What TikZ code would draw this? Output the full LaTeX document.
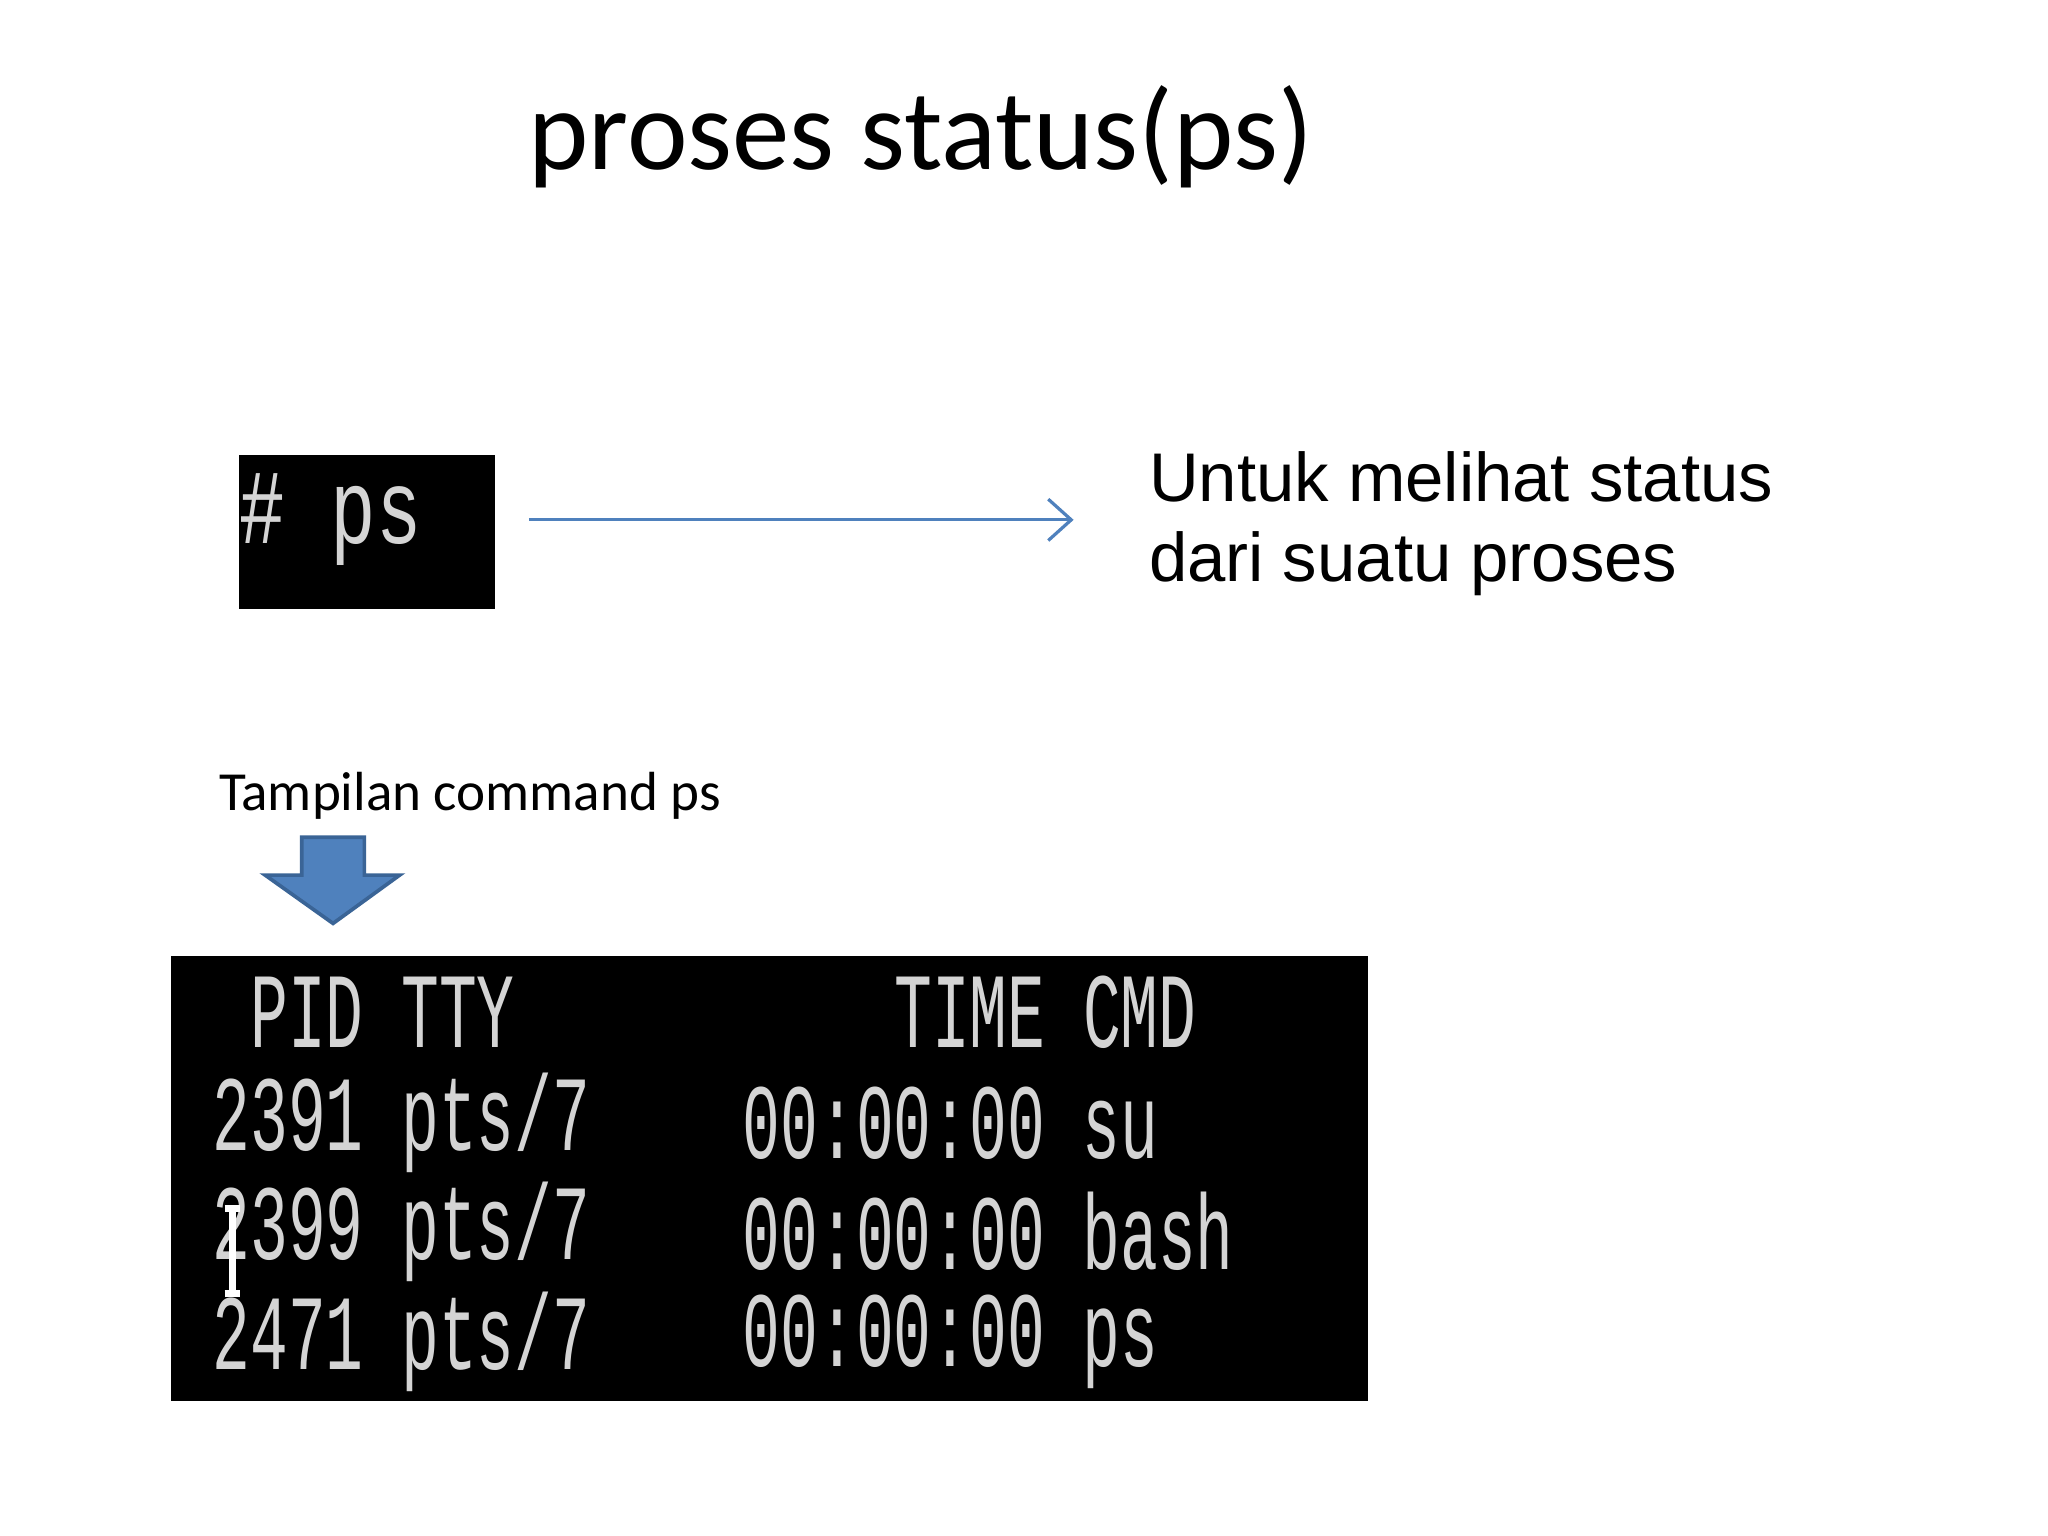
\documentclass[tikz,border=0pt]{standalone}
\usepackage{fontspec}
\usepackage{graphicx}
\setmainfont{Carlito}
\newfontfamily\arialf{Liberation Sans}
\newfontfamily\monof{Liberation Mono}
\usetikzlibrary{arrows.meta}
\definecolor{termgray}{HTML}{D4D4D4}
\definecolor{blockblue}{HTML}{4F81BD}
\definecolor{blockedge}{HTML}{3A6496}
\tikzset{
  term/.style={anchor=west,inner sep=0,text=termgray,font=\monof\fontsize{13.7}{14}\selectfont},
  blk/.style={fill=black,draw=none}
}
\newcommand{\tall}[1]{\scalebox{1}[1.7]{#1}}
\begin{document}
\begin{tikzpicture}[x=0.01cm,y=-0.01cm]
\useasboundingbox[fill=white] (0,0) rectangle (1568,1176);
\node (title) at (705,105) {\fontsize{25}{30}\selectfont proses status(ps)};
\node[blk,minimum width=196*0.01cm,minimum height=118*0.01cm,inner sep=0] (cmd) at (281,407) {};
\node[anchor=west,inner sep=0,text=termgray,font=\monof\fontsize{16.5}{18}\selectfont] (cmdtxt) at (183,398) {\scalebox{1}[1.4]{\# ps}};
\coordinate (a1) at (405,398);
\coordinate (a2) at (822,398);
\draw[blockblue,line width=0.7pt,-{Straight Barb[length=5pt,width=9pt]}] (a1) -- (a2);
\node[anchor=west,align=left,inner sep=0,font=\arialf\fontsize{15}{17.6}\selectfont] (desc) at (879,401) {Untuk melihat status\\dari suatu proses};
\node[anchor=west,inner sep=0,font=\fontsize{12}{14}\selectfont] (tamp) at (167,609) {Tampilan command ps};
\draw[fill=blockblue,draw=blockedge,line width=0.8pt] (231,641) -- (279,641) -- (279,670) -- (306,670) -- (255,707) -- (203,670) -- (231,670) -- cycle;
\node[blk,minimum width=916*0.01cm,minimum height=341*0.01cm,inner sep=0] (out) at (589,902.5) {};
\node[term] (h1) at (162,775) {\tall{\ PID TTY}};
\node[term] (h2) at (684,775) {\tall{TIME CMD}};
\node[term] (r1a) at (162,860) {\tall{2391 pts/7}};
\node[term] (r1b) at (568,860) {\tall{00:00:00 su}};
\node[term] (r2a) at (162,943) {\tall{2399 pts/7}};
\node[term] (r2b) at (568,943) {\tall{00:00:00 bash}};
\node[term] (r3a) at (162,1027) {\tall{2471 pts/7}};
\node[term] (r3b) at (568,1027) {\tall{00:00:00 ps}};
\draw[white,line width=1.5pt] (178,925) -- (178,990) (172,925) -- (184,925) (172,990) -- (184,990);
\end{tikzpicture}
\end{document}
